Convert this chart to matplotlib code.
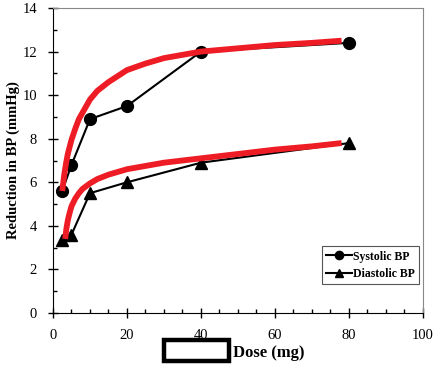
import matplotlib.pyplot as plt
from matplotlib.patches import Rectangle

# measured points
dose = [2.5, 5, 10, 20, 40, 80]
systolic = [5.6, 6.8, 8.9, 9.5, 12.0, 12.4]
diastolic = [3.35, 3.6, 5.5, 6.0, 6.9, 7.8]

# fitted curves
fit_sys_x = [2.5, 3, 3.5, 4, 5, 6, 7, 8, 10, 12, 15, 20, 25, 30, 40, 50, 60, 70, 78]
fit_sys_y = [5.6, 6.3, 6.85, 7.3, 7.95, 8.45, 8.9, 9.2, 9.8, 10.2, 10.6, 11.15, 11.45, 11.7, 12.0, 12.15, 12.3, 12.4, 12.5]
fit_dia_x = [3.3, 3.6, 4, 4.5, 5, 6, 7, 8, 10, 12, 15, 20, 25, 30, 40, 50, 60, 70, 78]
fit_dia_y = [3.4, 3.85, 4.25, 4.6, 4.9, 5.25, 5.5, 5.7, 5.95, 6.15, 6.35, 6.6, 6.75, 6.9, 7.1, 7.3, 7.5, 7.65, 7.8]

plt.rcParams['font.family'] = 'Liberation Serif'

fig = plt.figure(figsize=(4.39, 3.68), dpi=100)
ax = fig.add_axes([53/439, 55/368, 370/439, 305/368])

ax.plot(dose, systolic, color='black', lw=1.5, marker='o', ms=8.5, label='Systolic BP', zorder=3)
ax.plot(dose, diastolic, color='black', lw=1.5, marker='^', ms=8.5, label='Diastolic BP', zorder=3)
ax.plot(fit_sys_x, fit_sys_y, color='#ee1c25', lw=4.2, solid_capstyle='butt',
        solid_joinstyle='round', zorder=4)
ax.plot(fit_dia_x, fit_dia_y, color='#ee1c25', lw=4.2, solid_capstyle='butt',
        solid_joinstyle='round', zorder=4)

ax.set_xlim(0, 100)
ax.set_ylim(0, 14)
ax.set_xticks(range(0, 101, 20))
ax.set_yticks(range(0, 15, 2))
ax.set_xticks(range(0, 101, 5), minor=True)
ax.set_yticks(range(0, 15, 1), minor=True)
ax.tick_params(which='major', direction='inout', length=7, width=1, labelsize=10.5, pad=8)
ax.tick_params(which='minor', direction='in', length=3, width=1)
for s in ['top', 'right']:
    ax.spines[s].set_color('#888888')
    ax.spines[s].set_linestyle((0, (1, 1)))
for s in ['left', 'bottom']:
    ax.spines[s].set_color('black')

ax.set_ylabel('Reduction in BP (mmHg)', fontsize=10.5, fontweight='bold', labelpad=2)

leg = ax.legend(loc='lower right', bbox_to_anchor=(0.99, 0.095), prop={'size': 8.5, 'weight': 'bold'},
                fancybox=False, edgecolor='#555555', framealpha=1, handlelength=2.2,
                handletextpad=0.1, borderpad=0.35, labelspacing=0.45, markerscale=0.7,
                borderaxespad=0)
leg.get_frame().set_linewidth(0.8)

fig.text(233/439, 1 - 353/368, 'Dose (mg)', fontsize=12, fontweight='bold', va='center', ha='left')
fig.patches.append(Rectangle((164/439, 1 - 361/368), 65/439, 21/368, transform=fig.transFigure,
                             fill=False, edgecolor='black', lw=3.2))

fig.savefig('out.png', dpi=100)
